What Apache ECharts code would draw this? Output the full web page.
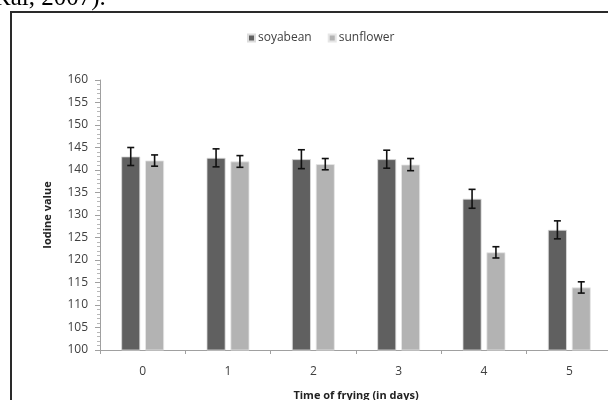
<!DOCTYPE html>
<html>
<head>
<meta charset="utf-8">
<script src="https://cdn.jsdelivr.net/npm/echarts@6/dist/echarts.min.js"></script>
<style>html,body{margin:0;padding:0;background:#fff;}#c{width:608px;height:400px;}</style>
</head>
<body>
<div id="c"></div>
<script>
var categories = ['0', '1', '2', '3', '4', '5'];
var soyabean = [143.0, 142.7, 142.4, 142.4, 133.6, 126.7];
var soyabeanErr = [2.0, 2.0, 2.1, 2.0, 2.1, 2.0];
var sunflower = [142.1, 141.9, 141.3, 141.2, 121.7, 113.9];
var sunflowerErr = [1.25, 1.3, 1.25, 1.35, 1.25, 1.25];
var yTicks = [100, 105, 110, 115, 120, 125, 130, 135, 140, 145, 150, 155, 160];

var FONT = '"Open Sans", "Liberation Sans", sans-serif';
var chart = echarts.init(document.getElementById('c'), null, {renderer: 'canvas'});

function errSeries(vals, errs, side) {
  return {
    type: 'custom',
    silent: true,
    z: 5,
    data: vals.map(function (v, i) { return [i, v, errs[i]]; }),
    renderItem: function (params, api) {
      var i = api.value(0), v = api.value(1), e = api.value(2);
      var band = api.size([1, 0])[0];
      var bw = band * 0.222;
      var gap = bw * 0.26;
      var cx = api.coord([i, v])[0] + side * (bw + gap) / 2;
      var top = api.coord([i, v + e])[1];
      var bot = api.coord([i, v - e])[1];
      var cap = 3.5;
      var st = {stroke: '#111', lineWidth: 1.6};
      return {
        type: 'group',
        children: [
          {type: 'line', shape: {x1: cx, y1: top, x2: cx, y2: bot}, style: st},
          {type: 'line', shape: {x1: cx - cap, y1: top, x2: cx + cap, y2: top}, style: st},
          {type: 'line', shape: {x1: cx - cap, y1: bot, x2: cx + cap, y2: bot}, style: st}
        ]
      };
    }
  };
}

chart.setOption({
  animation: false,
  backgroundColor: '#fff',
  textStyle: {fontFamily: FONT},
  graphic: [
    {type: 'rect', shape: {x: 11, y: 12, width: 700, height: 500},
     style: {fill: 'none', stroke: '#2a2a2a', lineWidth: 2}, z: 100},
    {type: 'text', left: -6, top: -14,
     style: {text: 'Rai, 2007).', font: '25px "Liberation Serif", "Times New Roman", serif', fill: '#000'}, z: 100}
  ],
  legend: {
    top: 27,
    left: 242,
    itemWidth: 7,
    itemHeight: 7,
    itemGap: 16,
    icon: 'rect',
    textStyle: {fontFamily: FONT, fontSize: 12, color: '#404040', padding: [0, 0, 0, -2]},
    data: ['soyabean', 'sunflower']
  },
  grid: {left: 100, right: -4, top: 80, bottom: 50, containLabel: false, outerBoundsMode: 'none'},
  xAxis: {
    type: 'category',
    data: categories,
    name: 'Time of frying (in days)',
    nameLocation: 'middle',
    nameGap: 40,
    nameTextStyle: {fontFamily: FONT, fontSize: 11, fontWeight: 'bold', color: '#222'},
    axisLine: {lineStyle: {color: '#a0a0a0', width: 1}},
    axisTick: {show: true, length: 4, alignWithLabel: false, lineStyle: {color: '#a0a0a0'}},
    axisLabel: {fontFamily: FONT, fontSize: 12, color: '#404040', margin: 16}
  },
  yAxis: {
    type: 'value',
    min: 100,
    max: 160,
    interval: 5,
    name: 'Iodine value',
    nameLocation: 'middle',
    nameGap: 47,
    nameRotate: 90,
    nameTextStyle: {fontFamily: FONT, fontSize: 11, fontWeight: 'bold', color: '#222'},
    axisLine: {show: true, lineStyle: {color: '#a0a0a0', width: 1}},
    axisTick: {show: true, length: 5, lineStyle: {color: '#a0a0a0'}},
    minorTick: {show: true, splitNumber: 5, length: 3, lineStyle: {color: '#b8b8b8'}},
    splitLine: {show: false},
    axisLabel: {fontFamily: FONT, fontSize: 12, color: '#404040', margin: 12,
      formatter: function (v) { return yTicks.indexOf(v) >= 0 ? String(v) : ''; }}
  },
  series: [
    {name: 'soyabean', type: 'bar', data: soyabean, barWidth: '22.2%', barGap: '26%',
     itemStyle: {color: '#606060', borderColor: '#dcdcdc', borderWidth: 0.8}},
    {name: 'sunflower', type: 'bar', data: sunflower, barWidth: '22.2%', barGap: '26%',
     itemStyle: {color: '#b3b3b3', borderColor: '#e6e6e6', borderWidth: 0.8}},
    errSeries(soyabean, soyabeanErr, -1),
    errSeries(sunflower, sunflowerErr, 1)
  ]
});
</script>
</body>
</html>
